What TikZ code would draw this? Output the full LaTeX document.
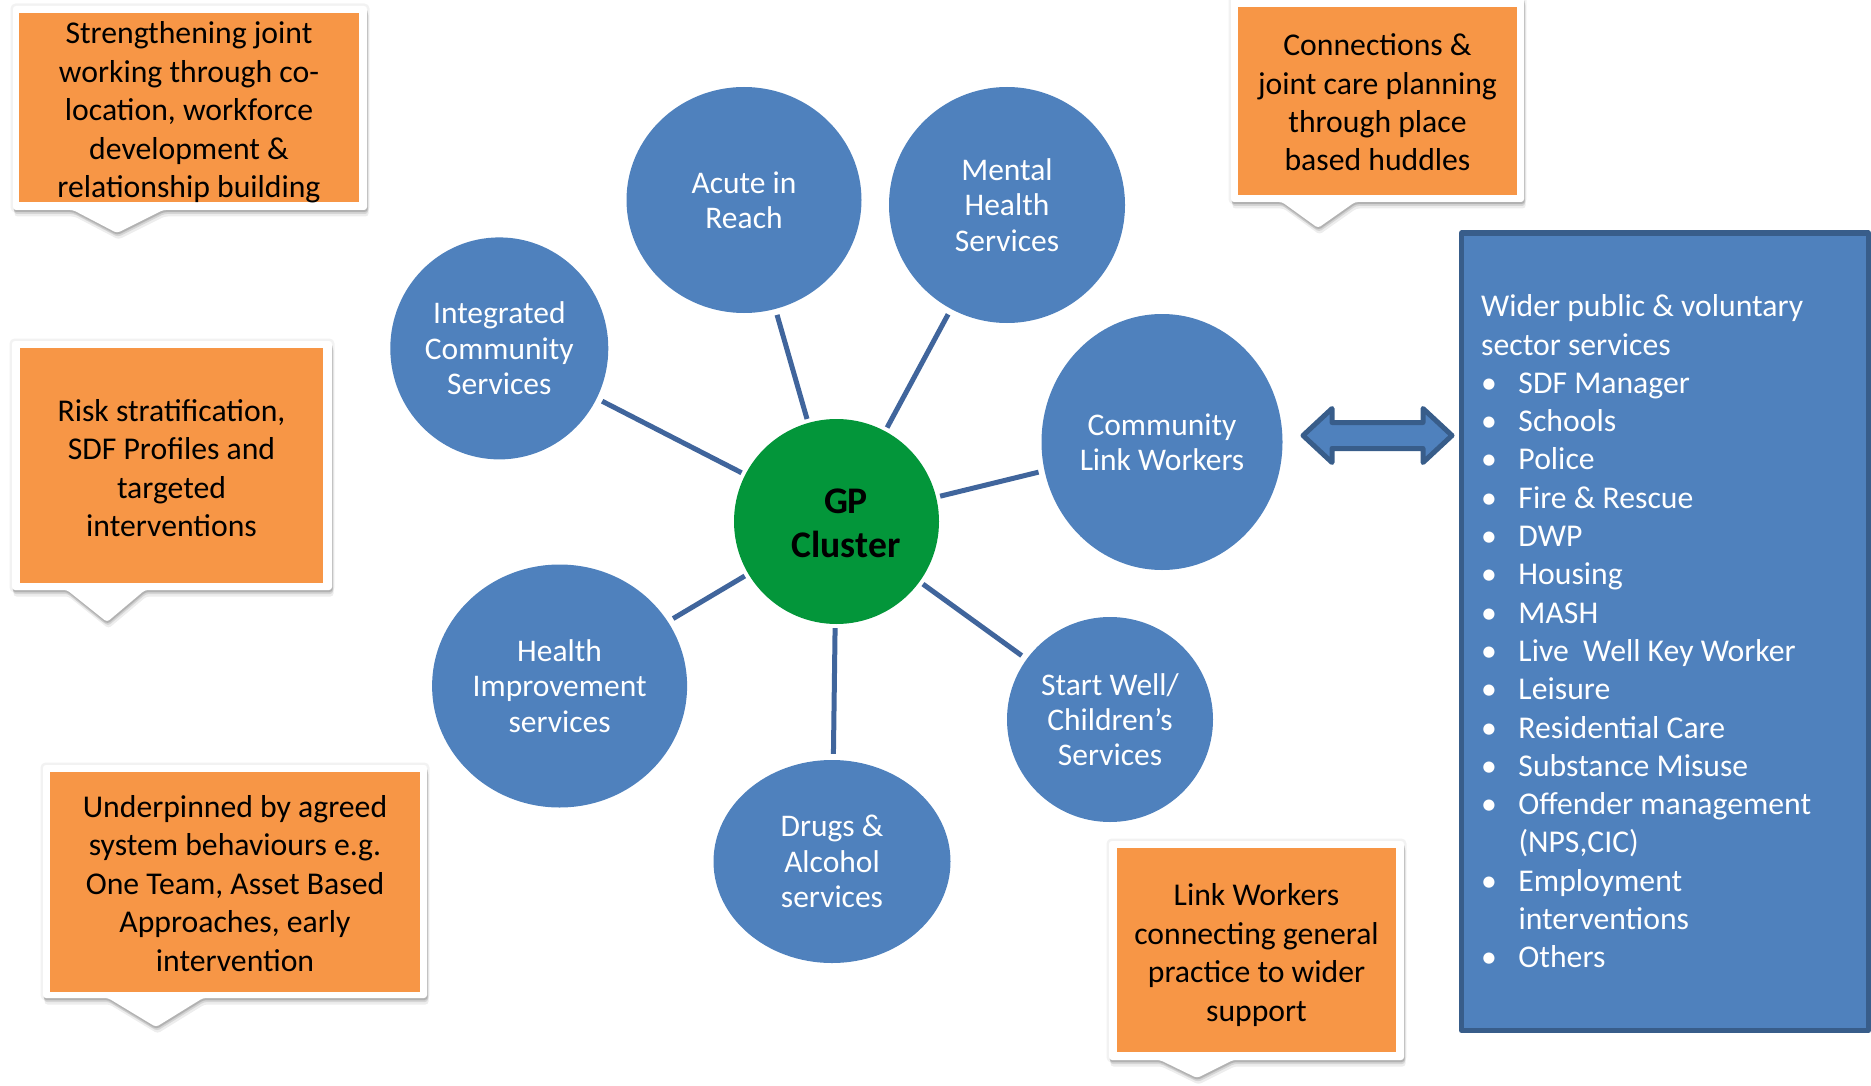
\documentclass[tikz,border=0pt]{standalone}
\usepackage{fontspec}
\setmainfont{Carlito}
\usetikzlibrary{shapes.geometric}

\newcommand{\blt}{\makebox[37.3pt][l]{\textbullet}}

\begin{document}
\begin{tikzpicture}[x=1pt,y=1pt,yscale=-1,xscale=1,
  svc/.style={ellipse, inner sep=0pt, fill={rgb,255:red,79;green,129;blue,189}, text=white, align=center, font=\fontsize{31.5}{35.3}\selectfont},
  spoke/.style={draw={rgb,255:red,64;green,101;blue,156}, line width=5pt, shorten <=4pt, shorten >=6pt},
  noteframe/.style={fill=white, rounded corners=3pt,
    preaction={draw=black, line width=5pt, opacity=0.05},
    preaction={fill=black, opacity=0.12, transform canvas={xshift=0.5pt, yshift=-2pt}},
    preaction={fill=black, opacity=0.10, transform canvas={xshift=1pt, yshift=-4pt}},
    preaction={fill=black, opacity=0.07, transform canvas={xshift=1.5pt, yshift=-6.5pt}}},
  notebox/.style={fill={rgb,255:red,247;green,150;blue,70}, inner sep=0pt, align=center, font=\fontsize{31.7}{38.4}\selectfont},
  bluebox/.style={fill={rgb,255:red,79;green,129;blue,189}, draw={rgb,255:red,56;green,93;blue,138}, line width=5pt, line join=round}]
\useasboundingbox (0,0) rectangle (1871,1086);

%Shape: Callout frames
\path[noteframe] (13,6) -- (367,6) -- (367,210) -- (163,210) -- (117,233) -- (73,210) -- (13,210) -- cycle;
\path[noteframe] (12,341) -- (332,341) -- (332,590) -- (145,590) -- (107,622) -- (67,590) -- (12,590) -- cycle;
\path[noteframe] (43,765) -- (427,765) -- (427,998) -- (203,998) -- (156,1027) -- (108,998) -- (43,998) -- cycle;
\path[noteframe] (1231,-4) -- (1524,-4) -- (1524,202) -- (1355,202) -- (1318,228) -- (1282,202) -- (1231,202) -- cycle;
\path[noteframe] (1109,841) -- (1404,841) -- (1404,1060) -- (1233,1060) -- (1197,1078) -- (1160,1060) -- (1109,1060) -- cycle;

% Callout boxes
\node[notebox, minimum width=340, minimum height=189] (cowork) at (189,107.5) {};
\node[notebox, minimum width=303, minimum height=235] (risk) at (171.5,465.5) {};
\node[notebox, minimum width=370, minimum height=220] (behave) at (235,882) {};
\node[notebox, minimum width=279, minimum height=188] (huddle) at (1377.5,101) {};
\node[notebox, minimum width=279, minimum height=204] (linkwork) at (1256.5,950) {};

% Callout text
\node[align=center, inner sep=0pt, font=\fontsize{31.7}{38.4}\selectfont] (coworktext) at (189,112.5) {Strengthening joint\\working through co-\\location, workforce\\development \&\\relationship building};
\node[align=center, inner sep=0pt, font=\fontsize{31.7}{38.4}\selectfont] (risktext) at (171.5,468) {Risk stratification,\\SDF Profiles and\\targeted\\interventions};
\node[align=center, inner sep=0pt, font=\fontsize{31.7}{38.4}\selectfont] (behavetext) at (235,883.5) {Underpinned by agreed\\system behaviours e.g.\\One Team, Asset Based\\Approaches, early\\intervention};
\node[align=center, inner sep=0pt, font=\fontsize{31.7}{38.4}\selectfont] (huddletext) at (1377.5,102.5) {Connections \&\\joint care planning\\through place\\based huddles};
\node[align=center, inner sep=0pt, font=\fontsize{31.7}{38.4}\selectfont] (linkworktext) at (1256.5,955) {Link Workers\\connecting general\\practice to wider\\support};

%Shape: Circles
\node[circle, minimum size=205, inner sep=0pt, fill={rgb,255:red,3;green,150;blue,58}] (gp) at (836.5,521.5) {};
\node[svc, minimum width=235, minimum height=226] (acute) at (744,200) {Acute in\\Reach};
\node[svc, minimum width=236, minimum height=236] (mental) at (1007,205) {Mental\\Health\\Services};
\node[svc, minimum width=218, minimum height=222] (integ) at (499.3,348.4) {Integrated\\Community\\Services};
\node[svc, minimum width=241, minimum height=256] (clw) at (1162,442) {Community\\Link Workers};
\node[svc, minimum width=255, minimum height=243] (health) at (559.6,686) {Health\\Improvement\\services};
\node[svc, minimum width=206, minimum height=205] (startwell) at (1110,719.5) {Start Well/\\Children’s\\Services};
\node[svc, minimum width=237, minimum height=203] (drugs) at (832,861.5) {Drugs \&\\Alcohol\\services};
\node[align=center, inner sep=0pt, font=\fontsize{37.6}{44}\selectfont\bfseries] (gplabel) at (846,523) {GP\\Cluster};

%Straight Lines
\draw[spoke] (gp) -- (acute);
\draw[spoke] (gp) -- (mental);
\draw[spoke] (gp) -- (integ);
\draw[spoke] (gp) -- (clw);
\draw[spoke] (gp) -- (health);
\draw[spoke] (gp) -- (startwell);
\draw[spoke] (gp) -- (drugs);

%Shape: Left-Right Arrow
\draw[bluebox] (1303,435.5) -- (1332,408.5) -- (1332,422.5) -- (1423,422.5) -- (1423,408.5) -- (1452,435.5) -- (1423,462.5) -- (1423,448.5) -- (1332,448.5) -- (1332,462.5) -- cycle;

%Shape: Rectangle
\draw[bluebox] (1461.5,233) rectangle (1868.5,1030.5);

% Text Node
\node[anchor=base west, inner sep=0pt, text width=380, align=flush left, text=white, font=\fontsize{31.7}{38.3}\selectfont] (wider) at (1481,316.7) {Wider public \& voluntary\\sector services\\\blt SDF Manager\\\blt Schools\\\blt Police\\\blt Fire \& Rescue\\\blt DWP\\\blt Housing\\\blt MASH\\\blt Live\ \ Well Key Worker\\\blt Leisure\\\blt Residential Care\\\blt Substance Misuse\\\blt Offender management\\\hspace*{37.3pt}(NPS,CIC)\\\blt Employment\\\hspace*{37.3pt}interventions\\\blt Others};

\end{tikzpicture}
\end{document}
